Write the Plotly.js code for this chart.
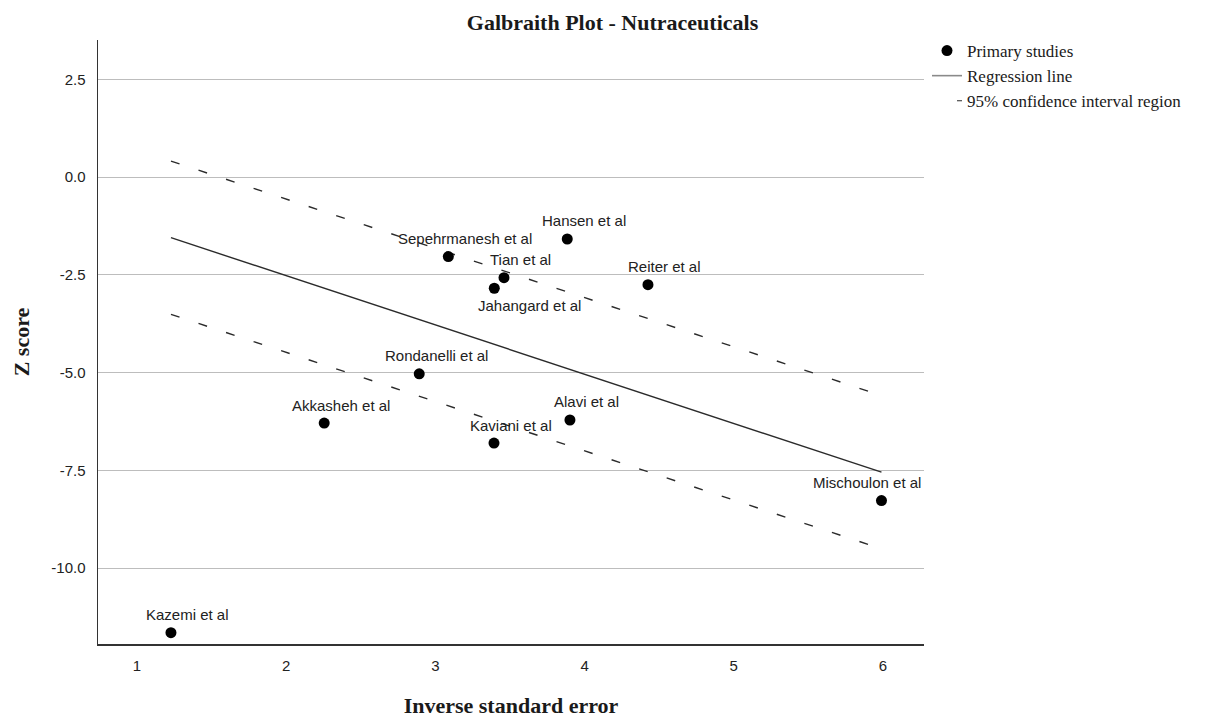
<!DOCTYPE html>
<html>
<head>
<meta charset="utf-8">
<script src="https://cdn.plot.ly/plotly-3.0.1.min.js"></script>
<style>
  html, body { margin: 0; padding: 0; background: #fff; }
  #chart { width: 1225px; height: 719px; }
</style>
</head>
<body>
<div id="chart"></div>
<script>
// Primary studies: precision (inverse standard error) and standardised effect (z score)
const studies = ["Kazemi et al", "Akkasheh et al", "Rondanelli et al", "Sepehrmanesh et al",
                 "Tian et al", "Jahangard et al", "Hansen et al", "Reiter et al",
                 "Alavi et al", "Kaviani et al", "Mischoulon et al"];
const precision = [1.228, 2.255, 2.892, 3.087, 3.460, 3.395, 3.884, 4.425, 3.902, 3.393, 5.990];
const zScore    = [-11.65, -6.29, -5.03, -2.03, -2.57, -2.84, -1.58, -2.75, -6.21, -6.80, -8.27];

const xTicks = [1, 2, 3, 4, 5, 6];
const yTicks = [-10, -7.5, -5, -2.5, 0, 2.5];
const zCrit = 1.96;

// Galbraith regression through the origin: slope = sum(x*z) / sum(x^2)
let sxy = 0, sxx = 0;
precision.forEach((x, i) => { sxy += x * zScore[i]; sxx += x * x; });
const slope = sxy / sxx;
const xLine = [Math.min(...precision), Math.max(...precision)];
const yLine = xLine.map(x => slope * x);
const yUpper = yLine.map(y => y + zCrit);
const yLower = yLine.map(y => y - zCrit);

const ink = '#2b2b2b';
const dashStyle = '9px,20px';
const serif = 'Liberation Serif, Times New Roman, serif';
const sans = 'Liberation Sans, Arial, sans-serif';

const traces = [
  { x: xLine, y: yLine, mode: 'lines', line: { color: ink, width: 1.4 }, showlegend: false, hoverinfo: 'skip' },
  { x: xLine, y: yUpper, mode: 'lines', line: { color: ink, width: 1.4, dash: dashStyle }, showlegend: false, hoverinfo: 'skip' },
  { x: xLine, y: yLower, mode: 'lines', line: { color: ink, width: 1.4, dash: dashStyle }, showlegend: false, hoverinfo: 'skip' },
  { x: precision, y: zScore, text: studies, mode: 'markers', name: 'Primary studies',
    marker: { color: '#000', size: 11 }, showlegend: true },
  // legend keys
  { x: [null], y: [null], mode: 'lines', name: 'Regression line', line: { color: '#8a8a8a', width: 1.6 } },
  { x: [null], y: [null], mode: 'lines', name: '95% confidence interval region',
    line: { color: ink, width: 1.2, dash: '0px,25px,5px' } }
];

// label placement relative to each marker (pixels)
const defaultNudge = { dx: 17, dy: 18 };
const labelNudge = {
  "Jahangard et al": { dx: 35, dy: -17 },
  "Mischoulon et al": { dx: -14, dy: 18 }
};

const annotations = studies.map((name, i) => {
  const n = labelNudge[name] || defaultNudge;
  return {
    x: precision[i], y: zScore[i], xref: 'x', yref: 'y',
    text: name, showarrow: false, xshift: n.dx, yshift: n.dy,
    xanchor: 'center', yanchor: 'middle',
    font: { family: sans, size: 15, color: '#222' }
  };
});

const layout = {
  width: 1225, height: 719,
  paper_bgcolor: '#fff', plot_bgcolor: '#fff',
  margin: { l: 98, r: 301, t: 40, b: 75 },
  title: {
    text: 'Galbraith Plot - Nutraceuticals',
    x: 0.5, xref: 'container', xanchor: 'center',
    y: 1 - 22 / 719, yref: 'container', yanchor: 'middle',
    font: { family: serif, size: 22, weight: 'bold', color: '#1a1a1a' }
  },
  xaxis: {
    range: [0.739, 6.275],
    tickvals: xTicks, ticktext: xTicks.map(String),
    showgrid: false, zeroline: false,
    showline: true, linecolor: '#333', linewidth: 1.5,
    ticks: '', ticklabelstandoff: 7,
    tickfont: { family: sans, size: 15, color: '#222' },
    title: { text: 'Inverse standard error', standoff: 25,
      font: { family: serif, size: 22, weight: 'bold', color: '#1a1a1a' } }
  },
  yaxis: {
    range: [-11.94, 3.51],
    tickvals: yTicks, ticktext: yTicks.map(v => v.toFixed(1)),
    showgrid: true, gridcolor: '#bdbdbd', gridwidth: 1,
    zeroline: false,
    showline: true, linecolor: '#333', linewidth: 1.5,
    ticks: '', ticklabelstandoff: 8,
    tickfont: { family: sans, size: 15, color: '#222' },
    title: { text: 'Z score', standoff: 15,
      font: { family: serif, size: 22, weight: 'bold', color: '#1a1a1a' } }
  },
  legend: {
    x: 927 / 1225, xref: 'container', xanchor: 'left',
    y: 1.0116, yref: 'paper', yanchor: 'top',
    bgcolor: 'rgba(0,0,0,0)', borderwidth: 0,
    font: { family: serif, size: 17, color: '#1a1a1a' },
    itemwidth: 30
  },
  annotations: annotations,
  showlegend: true
};

Plotly.newPlot('chart', traces, layout, { displayModeBar: false, staticPlot: true });
</script>
</body>
</html>
